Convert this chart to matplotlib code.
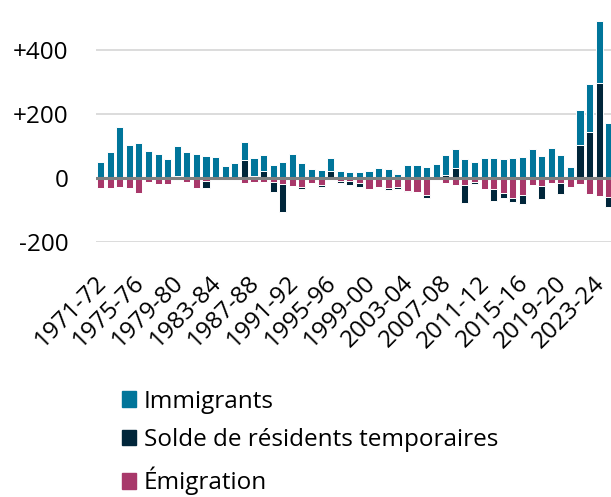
import numpy as np
import matplotlib.pyplot as plt
from matplotlib.patches import Patch
from matplotlib.transforms import ScaledTranslation

plt.rcParams['font.family'] = ['Open Sans', 'DejaVu Sans']

# composantes par année (en milliers)
years = [f"{y}-{str(y + 1)[2:]}" for y in range(1971, 2025)]
immigrants = [51, 81, 158, 102, 108, 84, 75, 58, 96, 80,
              75, 70, 65, 38, 47, 57, 55, 51, 42, 50,
              74, 47, 27, 25, 40, 21, 19, 19, 22, 30,
              28, 12, 40, 37, 34, 45, 63, 60, 58, 50,
              63, 62, 60, 63, 66, 92, 69, 95, 72, 34,
              111, 150, 194, 173]
temporaires = [0, 0, 0, 0, 0, 0, 0, 0, 5, 0,
               0, -22, 0, 0, 0, 57, 6, 22, -31, -86,
               0, -7, 0, -7, 22, -8, -12, -12, 0, 0,
               -6, -6, -4, 3, -8, 0, 9, 32, -58, -4,
               0, -38, -15, -12, -28, 0, -41, 0, -35, 0,
               102, 143, 296, -31]
emigration = [-31, -32, -29, -31, -48, -13, -19, -19, -3, -12,
              -30, -9, -2, -2, -2, -15, -11, -11, -13, -19,
              -25, -28, -15, -22, -3, -8, -10, -15, -35, -27,
              -32, -27, -40, -45, -53, -3, -15, -21, -21, -14,
              -33, -35, -46, -63, -53, -23, -24, -17, -16, -28,
              -18, -51, -57, -59]

c_imm = "#00759A"
c_tmp = "#00263A"
c_emi = "#A8386A"

imm = np.array(immigrants, dtype=float)
tmp = np.array(temporaires, dtype=float)
emi = np.array(emigration, dtype=float)
x = np.arange(len(years))

fig = plt.figure(figsize=(6.11, 4.97), dpi=100)
ax = fig.add_axes([96 / 611, 255 / 497, 515 / 611, 240 / 497])

w = 0.74
kw = dict(width=w, edgecolor="white", linewidth=0.7, zorder=2)
# negatifs : émigration puis solde temporaire en dessous
ax.bar(x, emi, color=c_emi, **kw)
tmp_neg = np.where(tmp < 0, tmp, 0)
ax.bar(x, tmp_neg, bottom=emi, color=c_tmp, **kw)
# positifs : solde temporaire puis immigrants au-dessus
tmp_pos = np.where(tmp > 0, tmp, 0)
ax.bar(x, tmp_pos, color=c_tmp, **kw)
ax.bar(x, imm, bottom=tmp_pos, color=c_imm, **kw)

ax.axhline(0, color="#808080", linewidth=2.2, zorder=3)
for yv in [400, 200, -200]:
    ax.axhline(yv, color="#D9D9D9", linewidth=1.3, zorder=1)

ax.set_xlim(-0.47, 53.23)
ax.set_ylim(-200, 550)
ax.set_yticks([400, 200, 0, -200])
ax.set_yticklabels(["+400", "+200", "0", "-200"], fontsize=17.5)
ax.set_xticks(x[::4])
ax.set_xticklabels(years[::4], fontsize=17.5, rotation=45, ha="right",
                   va="top", rotation_mode="anchor")
ax.tick_params(axis="y", length=0, pad=20)
ax.tick_params(axis="x", length=0, pad=21)
shift = ScaledTranslation(-6 / 100, 0, fig.dpi_scale_trans)
for lab in ax.get_xticklabels():
    lab.set_transform(lab.get_transform() + shift)
for s in ax.spines.values():
    s.set_visible(False)

handles = [Patch(color=c_imm, label="Immigrants"),
           Patch(color=c_tmp, label="Solde de résidents temporaires"),
           Patch(color=c_emi, label="Émigration")]
fig.legend(handles=handles, loc="upper left", bbox_to_anchor=(112 / 611, 1 - 380 / 497),
           frameon=False, fontsize=17.5, handlelength=0.6, handleheight=0.6,
           handletextpad=0.3, labelspacing=0.6, borderaxespad=0)

fig.savefig("out.png", dpi=100)
